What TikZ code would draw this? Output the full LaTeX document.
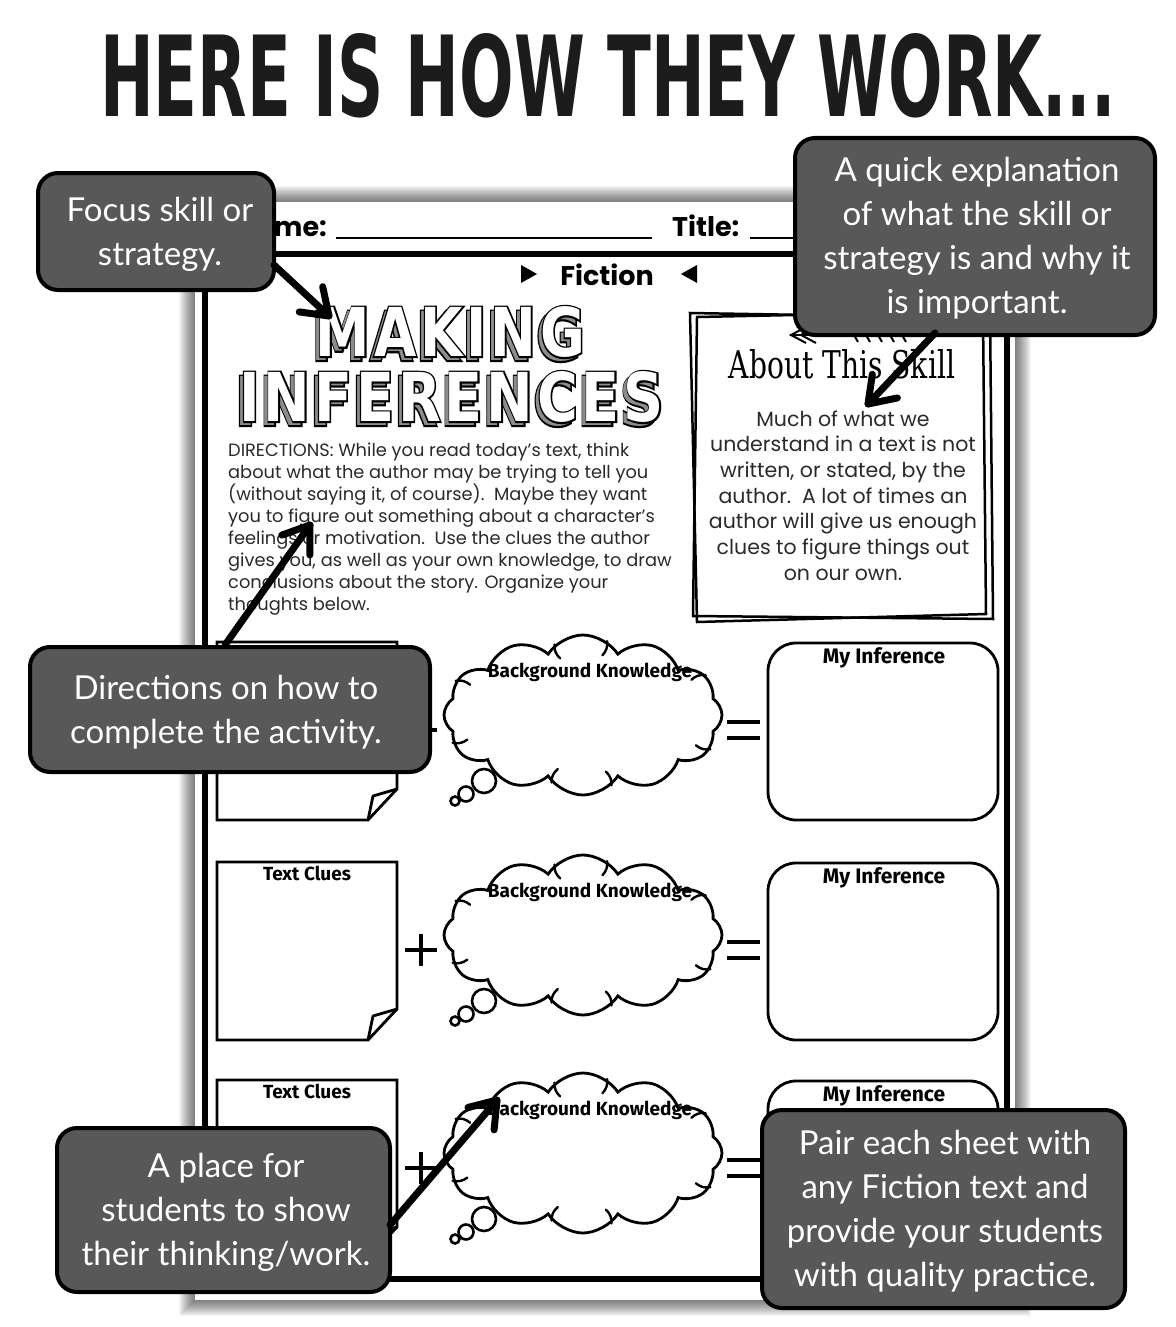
\documentclass[tikz,border=0pt]{standalone}
\usepackage{fontspec}
\usepackage{graphicx}
\usetikzlibrary{arrows.meta,shapes.symbols,calc}
\setmainfont{Lato}
\newfontfamily\handfont{Lato}
\newfontfamily\gothfont{Poppins}
\newfontfamily\labfont{Fira Sans}
\newfontfamily\headfont{DejaVu Sans}
\newfontfamily\blockfont[LetterSpace=7]{DejaVu Sans Bold}
\newfontfamily\blockfat[FakeBold=5,LetterSpace=7]{DejaVu Sans Bold}
\newfontfamily\slabfont{DejaVu Serif}
\definecolor{callgray}{HTML}{585858}
\definecolor{inkc}{HTML}{1C1C1C}
\definecolor{bodyc}{HTML}{2A2A2A}
\newcommand\bigword[3]{\resizebox{#1}{#2}{\headfont\bfseries #3}}
\newcommand\blockword[4]{\resizebox{#1}{#2}{#3 #4}}
\newcommand\pointerto[2]{%
  \draw[pointerline] (#1) -- (#2);
  \draw[pointerline] ($(#2)!30pt!35:(#1)$) -- (#2) -- ($(#2)!30pt!-35:(#1)$);
}
\tikzset{
  callout/.style={draw=black, line width=4pt, fill=callgray, rounded corners=20pt, inner sep=0pt},
  callouttext/.style={text=white, align=center, inner sep=0pt, font=\handfont\fontsize{33}{44}\selectfont},
  pointerline/.style={draw=black, line width=7pt, line cap=round, line join=round},
  cluebox/.style={draw=black, line width=2.8pt, line join=miter},
  infbox/.style={draw=black, line width=2.8pt, rounded corners=28pt},
  label/.style={inner sep=0pt, anchor=base, font=\labfont\bfseries\fontsize{19}{22}\selectfont},
  dirline/.style={inner sep=0pt, anchor=base west, text=bodyc, font=\gothfont\fontsize{17.8}{22}\selectfont},
  aboutline/.style={inner sep=0pt, anchor=base, text=bodyc, font=\gothfont\fontsize{20.5}{26}\selectfont},
  headtext/.style={inner sep=0pt, font=\gothfont\bfseries\fontsize{27}{30}\selectfont},
  opsign/.style={draw=black, line width=4.5pt},
  curl/.style={draw=black, line width=2.4pt, line cap=round},
  thoughtcloud/.style={cloud, draw=black, line width=2.8pt, fill=white, cloud puffs=12, cloud puff arc=115, aspect=1.8, inner sep=0pt, minimum width=278pt, minimum height=160pt}
}
\begin{document}
\begin{tikzpicture}[x=1pt,y=-1pt]
\useasboundingbox[fill=white] (0,0) rectangle (1175,1327);

% title
\node[anchor=south west, inner sep=0pt, text=inkc] (title) at (100,118) {\bigword{1015pt}{83pt}{HERE IS HOW THEY WORK...}};

% page shadow and sheet
\foreach \i in {1,...,16} {
  \fill[black, opacity=0.04] ({195-\i},{202-\i}) rectangle ({1015+\i},{1300+\i});
}
\fill[white] (195,202) rectangle (1015,1300);
\node[draw=black, line width=6pt, minimum width=802pt, minimum height=1025pt, inner sep=0pt] (frame) at (606,766.5) {};

% header
\node[headtext, anchor=base east] (name) at (327,236) {Name:};
\draw[line width=1.5pt] (336,238) -- (652,238);
\node[headtext, anchor=base west] (titlelab) at (672,236) {Title:};
\draw[line width=1.5pt] (750,238) -- (990,238);
\node[headtext, anchor=base] (fiction) at (607,285) {Fiction};
\fill[black] (521,265) -- (537,274) -- (521,283) -- cycle;
\fill[black] (697,265) -- (681,274) -- (697,283) -- cycle;

% MAKING INFERENCES outlined 3D words
\foreach \w/\cx/\cy/\wdd in {MAKING/439/332/292, INFERENCES/440/397/448} {
  \node[inner sep=0pt, text=black] (sh\w) at (\cx-4,\cy+4) {\blockword{\wdd pt}{50pt}{\blockfat}{\w}};
  \node[inner sep=0pt, text=black!45] (sg\w) at (\cx-4,\cy+4) {\blockword{\wdd pt}{50pt}{\blockfont}{\w}};
  \node[inner sep=0pt, text=black] (ol\w) at (\cx,\cy) {\blockword{\wdd pt}{50pt}{\blockfat}{\w}};
  \node[inner sep=0pt, text=white] (word\w) at (\cx,\cy) {\blockword{\wdd pt}{50pt}{\blockfont}{\w}};
}

% directions
\foreach \t [count=\i] in {
  {DIRECTIONS: While you read today’s text, think},
  {about what the author may be trying to tell you},
  {(without saying it, of course).\ \ Maybe they want},
  {you to figure out something about a character’s},
  {feelings or motivation.\ \ Use the clues the author},
  {gives you, as well as your own knowledge, to draw},
  {conclusions about the story. Organize your},
  {thoughts below.}} {
  \node[dirline] (dir\i) at (228,{456+22*(\i-1)}) {\t};
}

% about box
\draw[line width=2.5pt, line join=miter] (690,313) -- (983,318) -- (986,614) -- (697,622) -- cycle;
\draw[line width=2.5pt, line join=miter] (697,317) -- (990,311) -- (993,619) -- (693,616) -- cycle;
\draw[line width=2pt] (790,335) -- (905,335);
\draw[line width=2pt, line join=miter] (806,327) -- (791,335) -- (806,343);
\draw[line width=2pt, line join=miter] (816,327) -- (801,335) -- (816,343);
\foreach \fx in {850,862,...,898} { \draw[line width=2pt] (\fx,328) -- (\fx+8,342); }
\node[inner sep=0pt, anchor=base, text=black] (abouthead) at (842,378) {\resizebox{226pt}{29pt}{\slabfont About This Skill}};
\foreach \t [count=\i] in {
  {Much of what we},
  {understand in a text is not},
  {written, or stated, by the},
  {author.\ \ A lot of times an},
  {author will give us enough},
  {clues to figure things out},
  {on our own.}} {
  \node[aboutline] (ab\i) at (843,{426+25.7*(\i-1)}) {\t};
}

% three rows
\foreach \off [count=\r] in {0,220,438} {
  % text clues box with folded corner
  \draw[cluebox] (397,{642+\off+147}) -- (397,{642+\off}) -- (217,{642+\off}) -- (217,{642+\off+178}) -- (368,{642+\off+178}) -- cycle;
  \draw[cluebox, line join=round] (397,{642+\off+147}) -- (373,{642+\off+154}) -- (368,{642+\off+178});
  \node[label] (tc\r) at (307,{880+\off-220}) {Text Clues};
  % plus
  \draw[opsign] (405,{730+\off}) -- (437,{730+\off});
  \draw[opsign] (421,{714+\off}) -- (421,{746+\off});
  % cloud
  \node[thoughtcloud] (cl\r) at (583,{715+\off}) {};
  \foreach \ang/\bend in {165/left, 192/right, 245/left, 292/right, 345/left, 18/right, 72/left, 112/right} {
    \draw[curl] (cl\r.\ang) to[bend \bend=25] ($(cl\r.\ang)!15pt!(cl\r.center)$);
  }
  \draw[line width=2.6pt, fill=white] (484,{781+\off}) circle (12);
  \draw[line width=2.6pt, fill=white] (466,{794+\off}) circle (7.5);
  \draw[line width=2.6pt, fill=white] (455,{801+\off}) circle (4.5);
  \node[label] (bk\r) at (590,{677+\off}) {Background Knowledge};
  % equals
  \draw[opsign] (727,{722+\off}) -- (760,{722+\off});
  \draw[opsign] (727,{738+\off}) -- (760,{738+\off});
  % inference box
  \draw[infbox] (768,{643+\off}) rectangle (998,{820+\off});
  \node[label, font=\labfont\bfseries\fontsize{21}{24}\selectfont] (mi\r) at (884,{663+\off}) {My Inference};
}

% callouts
\node[callout, minimum width=236pt, minimum height=117pt] (c1) at (156,231.5) {};
\node[callouttext] (t1) at (160,234) {Focus skill or\\strategy.};
\node[callout, minimum width=360pt, minimum height=197pt] (c2) at (975,236.5) {};
\node[callouttext] (t2) at (977,238) {A quick explanation\\of what the skill or\\strategy is and why it\\is important.};
\node[callout, minimum width=400pt, minimum height=125pt] (c3) at (230,709.5) {};
\node[callouttext] (t3) at (226,712) {Directions on how to\\complete the activity.};
\node[callout, minimum width=333pt, minimum height=164pt] (c4) at (223.5,1210) {};
\node[callouttext] (t4) at (226,1212) {A place for\\students to show\\their thinking/work.};
\node[callout, minimum width=363pt, minimum height=198pt] (c5) at (943.5,1209) {};
\node[callouttext] (t5) at (945,1211) {Pair each sheet with\\any Fiction text and\\provide your students\\with quality practice.};

% pointers
\coordinate (s1) at ($(c1.south east)+(-2,-27)$);
\coordinate (s2) at ($(c2.south)+(-40,-4)$);
\coordinate (s3) at ($(c3.north)+(-5,0)$);
\coordinate (s4) at ($(c4.east)+(-2,15)$);
\coordinate (tip1) at (329,316);
\coordinate (tip2) at (868,404);
\coordinate (tip3) at (310,525);
\coordinate (tip4) at (497,1100);
\pointerto{s1}{tip1}
\pointerto{s2}{tip2}
\pointerto{s3}{tip3}
\pointerto{s4}{tip4}
\end{tikzpicture}
\end{document}
